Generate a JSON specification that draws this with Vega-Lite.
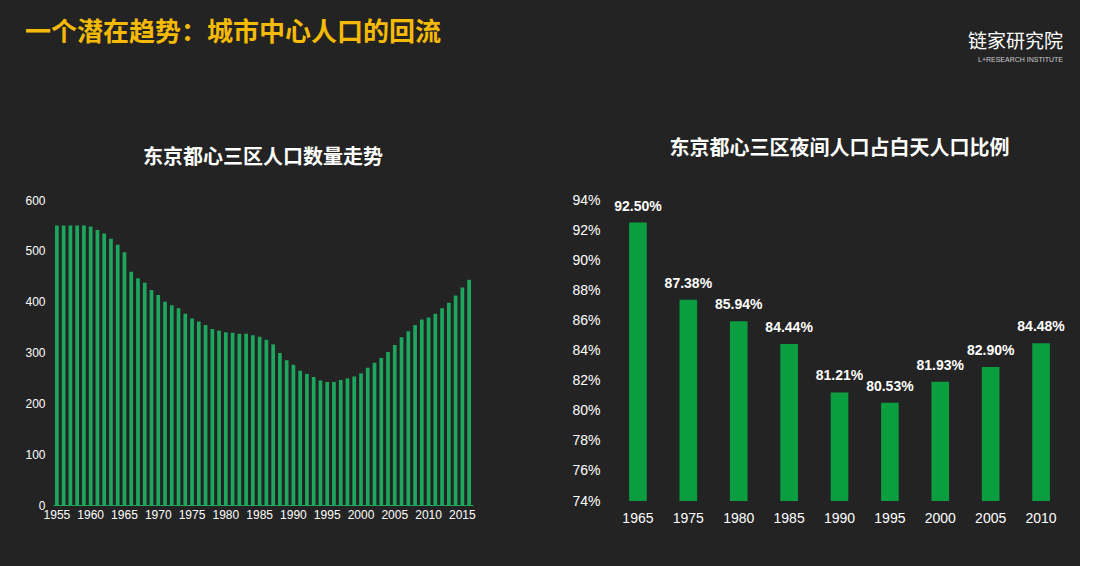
{
  "$schema": "https://vega.github.io/schema/vega-lite/v6.json",
  "background": "#232323",
  "padding": {"left": 24, "top": 14, "right": 15, "bottom": 41},
  "title": {"text": "一个潜在趋势：城市中心人口的回流", "anchor": "start", "frame": "bounds", "color": "#F6BA00", "fontSize": 26, "fontWeight": "bold", "offset": -32},
  "config": {
    "font": "Noto Sans CJK SC",
    "view": {"stroke": null},
    "axis": {"labelColor": "#ffffff", "labelFont": "Liberation Sans", "grid": false, "ticks": false, "domain": false, "title": null},
    "title": {"color": "#ffffff", "fontSize": 20, "fontWeight": "bold"}
  },
  "vconcat": [
    {
      "width": 1010,
      "height": 105,
      "data": {"values": [{"t": "链家研究院", "s": "L+RESEARCH INSTITUTE"}]},
      "layer": [
        {
          "mark": {"type": "text", "align": "right", "color": "#ffffff", "fontSize": 19, "dy": -6},
          "encoding": {
            "text": {"field": "t"},
            "x": {"datum": 1, "type": "quantitative", "scale": {"domain": [0, 1]}, "axis": null},
            "y": {"datum": 0.68, "type": "quantitative", "scale": {"domain": [0, 1]}, "axis": null}
          }
        },
        {
          "mark": {"type": "text", "align": "right", "color": "#cccccc", "fontSize": 7, "dy": 12, "font": "Liberation Sans"},
          "encoding": {
            "text": {"field": "s"},
            "x": {"datum": 1, "type": "quantitative", "scale": {"domain": [0, 1]}, "axis": null},
            "y": {"datum": 0.68, "type": "quantitative", "scale": {"domain": [0, 1]}, "axis": null}
          }
        }
      ]
    },
    {
      "spacing": 95,
      "hconcat": [
        {
          "width": 420,
          "height": 305,
          "title": {"text": "东京都心三区人口数量走势", "offset": 26},
          "data": {"values": [
            {"year": 1955, "pop": 550}, {"year": 1956, "pop": 550}, {"year": 1957, "pop": 550}, {"year": 1958, "pop": 550},
            {"year": 1959, "pop": 550}, {"year": 1960, "pop": 548}, {"year": 1961, "pop": 541}, {"year": 1962, "pop": 534},
            {"year": 1963, "pop": 524}, {"year": 1964, "pop": 512}, {"year": 1965, "pop": 497}, {"year": 1966, "pop": 459},
            {"year": 1967, "pop": 446}, {"year": 1968, "pop": 437}, {"year": 1969, "pop": 423}, {"year": 1970, "pop": 413},
            {"year": 1971, "pop": 400}, {"year": 1972, "pop": 393}, {"year": 1973, "pop": 387}, {"year": 1974, "pop": 376},
            {"year": 1975, "pop": 367}, {"year": 1976, "pop": 361}, {"year": 1977, "pop": 354}, {"year": 1978, "pop": 346},
            {"year": 1979, "pop": 343}, {"year": 1980, "pop": 340}, {"year": 1981, "pop": 339}, {"year": 1982, "pop": 337},
            {"year": 1983, "pop": 337}, {"year": 1984, "pop": 334}, {"year": 1985, "pop": 331}, {"year": 1986, "pop": 325},
            {"year": 1987, "pop": 316}, {"year": 1988, "pop": 299}, {"year": 1989, "pop": 285}, {"year": 1990, "pop": 276},
            {"year": 1991, "pop": 264}, {"year": 1992, "pop": 258}, {"year": 1993, "pop": 252}, {"year": 1994, "pop": 245},
            {"year": 1995, "pop": 242}, {"year": 1996, "pop": 242}, {"year": 1997, "pop": 246}, {"year": 1998, "pop": 249},
            {"year": 1999, "pop": 253}, {"year": 2000, "pop": 259}, {"year": 2001, "pop": 270}, {"year": 2002, "pop": 280},
            {"year": 2003, "pop": 289}, {"year": 2004, "pop": 301}, {"year": 2005, "pop": 315}, {"year": 2006, "pop": 330},
            {"year": 2007, "pop": 342}, {"year": 2008, "pop": 354}, {"year": 2009, "pop": 365}, {"year": 2010, "pop": 369},
            {"year": 2011, "pop": 376}, {"year": 2012, "pop": 387}, {"year": 2013, "pop": 398}, {"year": 2014, "pop": 412},
            {"year": 2015, "pop": 428}, {"year": 2016, "pop": 443}
          ]},
          "mark": {"type": "bar", "color": "#1ca65e"},
          "encoding": {
            "x": {"field": "year", "type": "ordinal", "scale": {"paddingInner": 0.45, "paddingOuter": 0.3},
                  "axis": {"labelAngle": 0, "labelFontSize": 12, "labelExpr": "datum.value % 5 == 0 ? datum.value : ''", "domain": true, "domainColor": "#1ca65e", "labelPadding": 4}},
            "y": {"field": "pop", "type": "quantitative", "scale": {"domain": [0, 600]},
                  "axis": {"values": [0, 100, 200, 300, 400, 500, 600], "labelFontSize": 12, "labelPadding": 8}}
          }
        },
        {
          "width": 451,
          "height": 301,
          "title": {"text": "东京都心三区夜间人口占白天人口比例", "offset": 34},
          "data": {"values": [
            {"year": "1965", "r": 92.50}, {"year": "1975", "r": 87.38}, {"year": "1980", "r": 85.94},
            {"year": "1985", "r": 84.44}, {"year": "1990", "r": 81.21}, {"year": "1995", "r": 80.53},
            {"year": "2000", "r": 81.93}, {"year": "2005", "r": 82.90}, {"year": "2010", "r": 84.48}
          ]},
          "transform": [{"calculate": "format(datum.r, '.2f') + '%'", "as": "lab"}],
          "encoding": {
            "x": {"field": "year", "type": "ordinal", "scale": {"paddingInner": 0.65, "paddingOuter": 0.3},
                  "axis": {"labelAngle": 0, "labelFontSize": 14, "labelPadding": 10}},
            "y": {"field": "r", "type": "quantitative", "scale": {"domain": [74, 94], "clamp": true, "nice": false},
                  "axis": {"values": [74, 76, 78, 80, 82, 84, 86, 88, 90, 92, 94], "labelExpr": "datum.value + '%'", "labelFontSize": 14, "labelPadding": 14}}
          },
          "layer": [
            {"mark": {"type": "bar", "color": "#0a9e40"}},
            {"mark": {"type": "text", "color": "#ffffff", "fontSize": 14, "fontWeight": "bold", "font": "Liberation Sans", "dy": -16},
             "encoding": {"text": {"field": "lab"}}}
          ]
        }
      ]
    }
  ]
}
